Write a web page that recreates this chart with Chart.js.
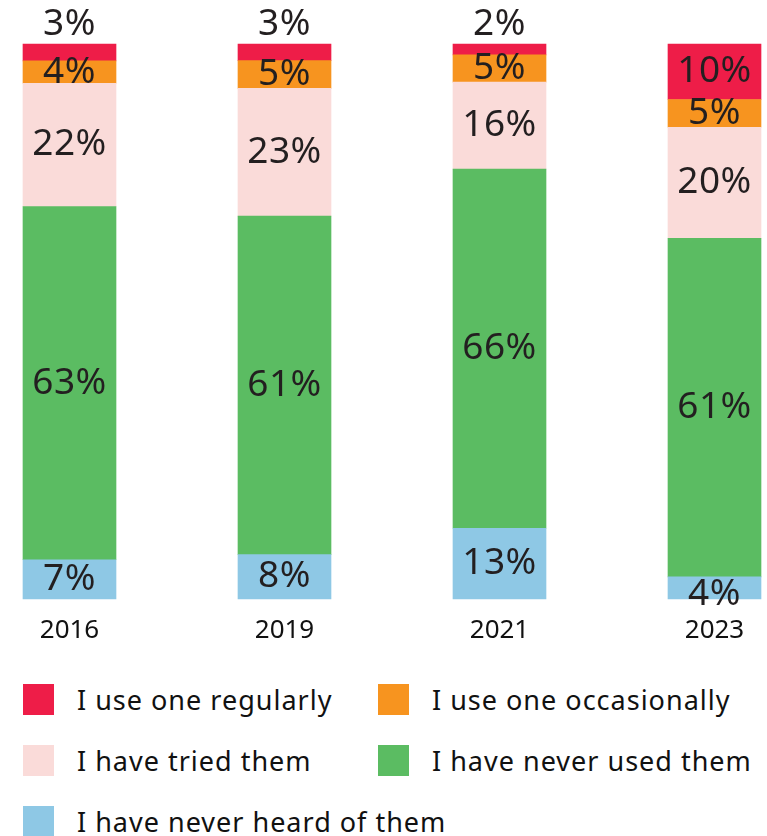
<!DOCTYPE html>
<html>
<head>
<meta charset="utf-8">
<script src="https://cdn.jsdelivr.net/npm/chart.js@4/dist/chart.umd.min.js"></script>
<style>
  html, body { margin: 0; padding: 0; background: #fff; }
  body { width: 767px; height: 836px; overflow: hidden; position: relative; font-family: "Noto Sans", sans-serif; }
  #wrap { position: absolute; left: 0; top: 0; width: 767px; height: 660px; }
  #legend { position: absolute; left: 23px; top: 669px; display: grid; grid-template-columns: 355px 355px; grid-auto-rows: 61px; }
  .item { display: flex; align-items: center; font-size: 27px; letter-spacing: 1px; color: #111; white-space: nowrap; }
  .swatch { width: 31px; height: 31px; margin-right: 23px; flex: none; }
</style>
</head>
<body>
<div id="wrap"><canvas id="chart"></canvas></div>
<div id="legend"></div>
<script>
// Survey years
const years = ['2016', '2019', '2021', '2023'];

// Share of respondents (%) per answer, one value per year
const useRegularly     = [3, 3, 2, 10];
const useOccasionally  = [4, 5, 5, 5];
const haveTried        = [22, 23, 16, 20];
const neverUsed        = [63, 61, 66, 61];
const neverHeard       = [7, 8, 13, 4];

const seriesNames = [
  'I use one regularly',
  'I use one occasionally',
  'I have tried them',
  'I have never used them',
  'I have never heard of them'
];
const seriesColors = ['#EE1D48', '#F7941F', '#FADBD9', '#5BBC62', '#8EC8E5'];
const seriesValues = [useRegularly, useOccasionally, haveTried, neverUsed, neverHeard];

// Each column is scaled to fill 100% of the bar height
const totals = years.map((_, i) => seriesValues.reduce((s, arr) => s + arr[i], 0));

// Stack from the bottom: never heard ... use regularly
const order = [4, 3, 2, 1, 0];
const datasets = order.map(k => ({
  label: seriesNames[k],
  raw: seriesValues[k],
  data: seriesValues[k].map((v, i) => v / totals[i] * 100),
  backgroundColor: seriesColors[k],
  borderWidth: 0,
  barThickness: 93,
  clip: false
}));

const FONT = '"Noto Sans", sans-serif';

// Percentage labels inside each segment; thin top segments get theirs above the bar,
// thin bottom segments let theirs hang just below the middle
const valueLabels = {
  id: 'valueLabels',
  afterDatasetsDraw(chart) {
    const ctx = chart.ctx;
    ctx.save();
    ctx.font = '37px ' + FONT;
    if ('letterSpacing' in ctx) ctx.letterSpacing = '0.5px';
    ctx.fillStyle = '#231F20';
    ctx.textAlign = 'center';
    ctx.textBaseline = 'middle';
    const last = chart.data.datasets.length - 1;
    chart.data.datasets.forEach((ds, di) => {
      const meta = chart.getDatasetMeta(di);
      meta.data.forEach((bar, i) => {
        const h = Math.abs(bar.base - bar.y);
        let y = (bar.y + bar.base) / 2;
        if (di === last && h < 20) y = bar.y - 20;
        else if (di === 0 && h < 24) y = bar.base - 5;
        ctx.fillText(ds.raw[i] + '%', bar.x, y);
      });
    });
    ctx.restore();
  }
};

const chart = new Chart(document.getElementById('chart'), {
  type: 'bar',
  data: { labels: years, datasets },
  options: {
    responsive: true,
    maintainAspectRatio: false,
    animation: false,
    layout: { padding: { left: 69.5, right: 52.5, top: 44, bottom: 0 } },
    plugins: { legend: { display: false }, tooltip: { enabled: false } },
    scales: {
      x: {
        stacked: true,
        offset: false,
        grid: { display: false, drawTicks: false },
        border: { display: false },
        ticks: { color: '#111', font: { family: FONT, size: 26 }, padding: 16 },
        afterFit(scale) { scale.height = 61; }
      },
      y: {
        stacked: true,
        display: false,
        min: 0,
        max: 100
      }
    }
  },
  plugins: [valueLabels]
});

// Two-column legend built from the series names and colours
const legend = document.getElementById('legend');
seriesNames.forEach((name, k) => {
  const item = document.createElement('div');
  item.className = 'item';
  const sw = document.createElement('span');
  sw.className = 'swatch';
  sw.style.background = seriesColors[k];
  const txt = document.createElement('span');
  txt.textContent = name;
  item.appendChild(sw);
  item.appendChild(txt);
  legend.appendChild(item);
});
</script>
</body>
</html>
